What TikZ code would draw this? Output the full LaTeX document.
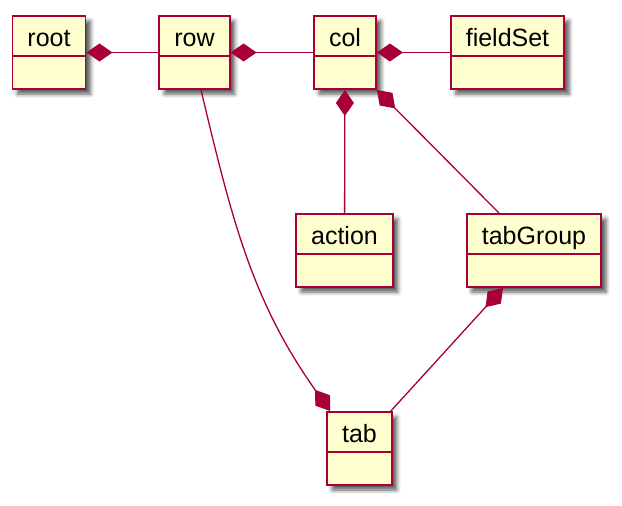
\documentclass[tikz,border=0pt]{standalone}
\usepackage{fontspec}
\setmainfont{Liberation Sans}
\usepackage{xcolor}
\usetikzlibrary{arrows.meta, shadows.blur}

\definecolor{umlred}{HTML}{A80036}
\definecolor{umlfill}{HTML}{FEFECE}

\tikzset{
  classbox/.style={draw=umlred, fill=umlfill, line width=1.9pt, inner xsep=15pt, inner ysep=0pt,
    text height=30pt, text depth=43pt, font=\fontsize{25}{29}\selectfont,
    blur shadow={shadow xshift=5pt, shadow yshift=-5pt, shadow blur radius=4pt, shadow opacity=65},
    path picture={\draw[umlred, line width=1.9pt]
      ([yshift=-40pt]path picture bounding box.north west) -- ([yshift=-40pt]path picture bounding box.north east);}},
  comp/.style={draw=umlred, line width=1.3pt, {Diamond[length=26pt, width=18pt]}-}
}

\begin{document}
\begin{tikzpicture}[x=1pt, y=-1pt]
  \useasboundingbox (0,0) rectangle (622,506);
  % top row of classes
  \node[classbox] (root)     at (49,52.5)    {root};
  \node[classbox] (row)      at (194.5,52.5) {row};
  \node[classbox] (col)      at (345,52.5)   {col};
  \node[classbox] (fieldSet) at (507.5,52.5) {fieldSet};
  % second and third level
  \node[classbox] (action)   at (344.5,250.5) {action};
  \node[classbox] (tabGroup) at (534,250.5)   {tabGroup};
  \node[classbox] (tab)      at (359.5,448.5) {tab};
  % compositions (diamond on the owner side)
  \draw[comp] (root) -- (row);
  \draw[comp] (row) -- (col);
  \draw[comp] (col) -- (fieldSet);
  \draw[comp] (col) -- (action);
  \draw[comp] (col.south east) -- ([xshift=-35pt]tabGroup.north);
  \draw[comp] ([xshift=-31pt]tabGroup.south) -- ([xshift=-2pt]tab.north east);
  \draw[comp] ([xshift=4pt]tab.north west) .. controls (252,301) and (232,220) .. ([xshift=6.5pt]row.south);
\end{tikzpicture}
\end{document}
